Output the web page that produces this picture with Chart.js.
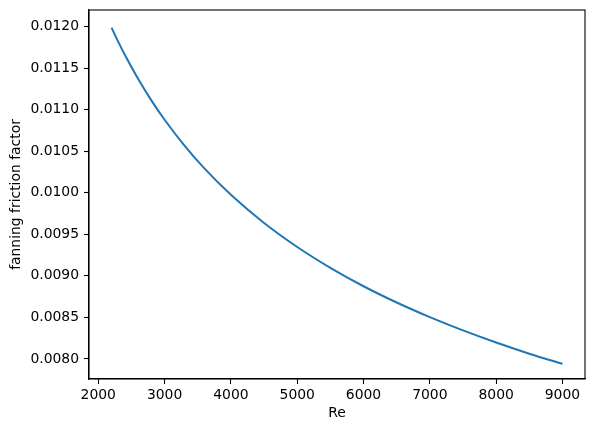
<!DOCTYPE html>
<html>
<head>
<meta charset="utf-8">
<script src="https://cdn.jsdelivr.net/npm/chart.js@4/dist/chart.umd.min.js"></script>
<style>
  html, body { margin: 0; padding: 0; background: #ffffff; }
  #wrap { width: 594px; height: 432px; position: relative; }
</style>
</head>
<body>
<div id="wrap"><canvas id="c" width="594" height="432"></canvas></div>
<script>
// Reynolds number (x) and fanning friction factor (y)
const reValues = [2200, 2300, 2400, 2600, 2800, 3000, 3300, 3600, 4000, 4500, 5000, 5500, 6000, 6500, 7000, 7500, 8000, 8500, 9000];
const frictionFactor = [0.011990, 0.011821, 0.011662, 0.011373, 0.011114, 0.010880, 0.010569, 0.010294, 0.009976, 0.009637, 0.009348, 0.009097, 0.008875, 0.008679, 0.008503, 0.008343, 0.008197, 0.008063, 0.007941];
const xTicks = [2000, 3000, 4000, 5000, 6000, 7000, 8000, 9000];
const yTicks = [0.0080, 0.0085, 0.0090, 0.0095, 0.0100, 0.0105, 0.0110, 0.0115, 0.0120];
const xLabel = "Re";
const yLabel = "fanning friction factor";

const FONT = { family: "'DejaVu Sans', sans-serif", size: 13.9 };

const framePlugin = {
  id: 'frame',
  afterDraw(chart) {
    const { ctx, chartArea: a } = chart;
    ctx.save();
    ctx.strokeStyle = '#000';
    ctx.lineWidth = 1.1;
    ctx.strokeRect(a.left, a.top, a.right - a.left, a.bottom - a.top);
    ctx.restore();
  }
};

new Chart(document.getElementById('c'), {
  type: 'line',
  data: {
    datasets: [{
      data: reValues.map((x, i) => ({ x: x, y: frictionFactor[i] })),
      borderColor: '#1f77b4',
      borderWidth: 2,
      pointRadius: 0,
      fill: false,
      cubicInterpolationMode: 'monotone'
    }]
  },
  options: {
    responsive: false,
    animation: false,
    devicePixelRatio: 1,
    layout: { padding: { top: 10, right: 9, left: 0, bottom: 0 } },
    plugins: { legend: { display: false }, tooltip: { enabled: false } },
    scales: {
      x: {
        type: 'linear',
        min: 1860,
        max: 9340,
        afterBuildTicks: s => { s.ticks = xTicks.map(v => ({ value: v })); },
        afterFit: s => { s.height = 53; s.paddingLeft = 0; s.paddingRight = 0; },
        grid: { display: true, drawOnChartArea: false, drawTicks: true, tickLength: 5, color: '#000', tickWidth: 1.1 },
        border: { display: true, color: '#000', width: 1.1 },
        ticks: { color: '#000', font: FONT, padding: 3, maxRotation: 0, autoSkip: false, callback: v => String(v) },
        title: { display: true, text: xLabel, color: '#000', font: FONT, padding: { top: 0, bottom: 10 } }
      },
      y: {
        type: 'linear',
        min: 0.007758,
        max: 0.012202,
        afterBuildTicks: s => { s.ticks = yTicks.map(v => ({ value: v })); },
        afterFit: s => { s.width = 89; s.paddingTop = 0; s.paddingBottom = 0; },
        grid: { display: true, drawOnChartArea: false, drawTicks: true, tickLength: 5, color: '#000', tickWidth: 1.1 },
        border: { display: true, color: '#000', width: 1.1 },
        ticks: { color: '#000', font: FONT, padding: 5, autoSkip: false, callback: v => v.toFixed(4) },
        title: { display: true, text: yLabel, color: '#000', font: FONT, padding: { top: 8.5, bottom: 0 } }
      }
    }
  },
  plugins: [framePlugin]
});
</script>
</body>
</html>
